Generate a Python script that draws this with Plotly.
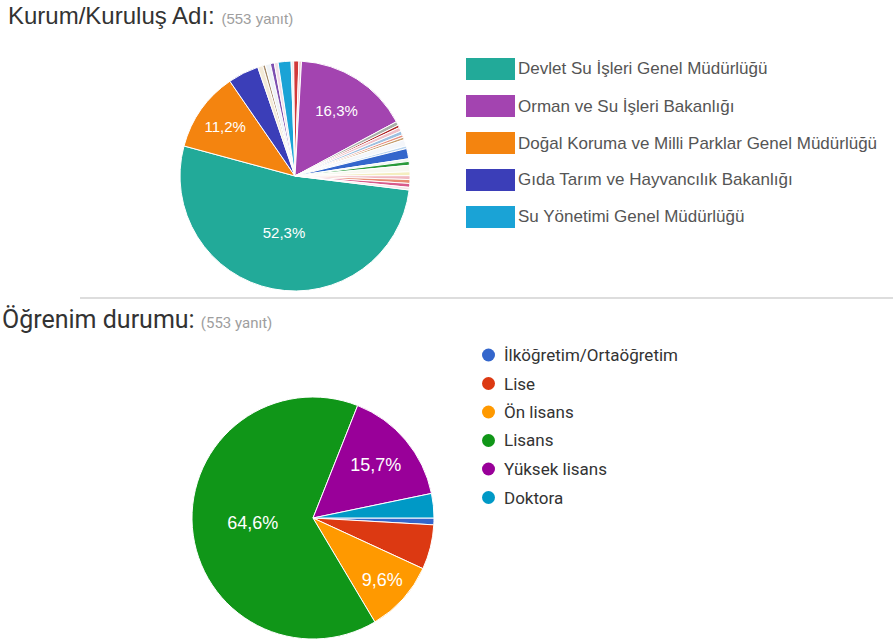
import plotly.graph_objects as go

W, H = 893, 644

# ---------------- Data: Kurum/Kuruluş Adı (553 yanıt) ----------------
# clockwise order as drawn, starting with the largest slice
kurum_labels = [
    "Devlet Su İşleri Genel Müdürlüğü",
    "Doğal Koruma ve Milli Parklar Genel Müdürlüğü",
    "Gıda Tarım ve Hayvancılık Bakanlığı",
    "Diğer 1", "Diğer 2", "Diğer 3", "Diğer 4", "Diğer 5",
    "Su Yönetimi Genel Müdürlüğü",
    "Diğer 6", "Diğer 7", "Diğer 8",
    "Orman ve Su İşleri Bakanlığı",
    "Diğer 9", "Diğer 10", "Diğer 11", "Diğer 12", "Diğer 13", "Diğer 14",
    "Diğer 15", "Diğer 16", "Diğer 17", "Diğer 18", "Diğer 19", "Diğer 20",
    "Diğer 21", "Diğer 22", "Diğer 23", "Diğer 24", "Diğer 25",
]
kurum_values = [
    289, 62, 24,
    4, 2, 4, 3, 3,
    10,
    2, 4, 2,
    90,
    3, 2, 3, 3, 2, 2,
    5, 2, 8, 2, 3, 5,
    3, 3, 3, 3, 2,
]
kurum_colors = [
    "#22aa99", "#f4840f", "#3b3eb8",
    "#f3ead8", "#a58a6a", "#eef2f6", "#7d4fb0", "#f2dce6",
    "#1aa3d6",
    "#e8f0f0", "#d23a3a", "#f0c8d0",
    "#a344b0",
    "#a8b0a8", "#b02828", "#f0c0c8", "#9ec0e0", "#e89080", "#c8a070",
    "#f4f6fa", "#b8d4f0", "#3366cc", "#eef6ee", "#2a9a3a", "#f8f8f0",
    "#f4eec0", "#f0b8c0", "#e88a70", "#d85a8a", "#f4e4e8",
]

# ---------------- Data: Öğrenim durumu (553 yanıt) ----------------
egitim_labels = ["İlköğretim/Ortaöğretim", "Lise", "Ön lisans", "Lisans",
                 "Yüksek lisans", "Doktora"]
egitim_values = [5, 33, 53, 357, 87, 18]
egitim_colors = ["#3366cc", "#dc3912", "#ff9900", "#109618", "#990099", "#0099c6"]

TOTAL_TEXT = "(553 yanıt)"
FONT = "Liberation Sans, Arial, sans-serif"
FONT2 = "Roboto, Liberation Sans, Arial, sans-serif"


def pct_text(values, threshold=0.08):
    s = sum(values)
    out = []
    for v in values:
        p = v / s
        out.append((f"{p*100:.1f}%".replace(".", ",")) if p >= threshold else "")
    return out


def px(x):
    return x / W


def py(y):
    return 1 - y / H


fig = go.Figure()

fig.add_trace(go.Pie(
    labels=kurum_labels, values=kurum_values, sort=False, direction="clockwise",
    rotation=97, marker=dict(colors=kurum_colors, line=dict(color="white", width=1)),
    text=pct_text(kurum_values), textinfo="text", textposition="inside",
    insidetextorientation="horizontal",
    textfont=dict(color="white", size=15, family=FONT),
    domain=dict(x=[px(180), px(410)], y=[py(291), py(61)]),
    showlegend=False, hoverinfo="label+percent",
))

fig.add_trace(go.Pie(
    labels=egitim_labels, values=egitim_values, sort=False, direction="clockwise",
    rotation=90, marker=dict(colors=egitim_colors, line=dict(color="white", width=1)),
    text=pct_text(egitim_values), textinfo="text", textposition="inside",
    insidetextorientation="horizontal",
    textfont=dict(color="white", size=18, family=FONT),
    domain=dict(x=[px(192), px(434)], y=[py(639), py(397)]),
    showlegend=False, hoverinfo="label+percent",
))

shapes = []
annotations = []

# Titles
annotations.append(dict(
    x=px(6), y=py(0), xref="paper", yref="paper", xanchor="left", yanchor="top",
    showarrow=False, align="left",
    text=f"Kurum/Kuruluş Adı: <span style='font-size:15px;color:#9e9e9e'>{TOTAL_TEXT}</span>",
    font=dict(size=24, color="#333333", family=FONT),
))
annotations.append(dict(
    x=px(0), y=py(319), xref="paper", yref="paper", xanchor="left", yanchor="middle",
    showarrow=False, align="left",
    text=f"Öğrenim durumu: <span style='font-size:15px;color:#9e9e9e'>{TOTAL_TEXT}</span>",
    font=dict(size=25, color="#333333", family=FONT2),
))

# Separator line
shapes.append(dict(type="line", xref="paper", yref="paper",
                   x0=px(80), x1=1, y0=py(298), y1=py(298),
                   line=dict(color="#bbbbbb", width=1)))

# Top legend: five largest categories, swatch rectangles
top5 = sorted(zip(kurum_values, kurum_labels, kurum_colors), key=lambda t: -t[0])[:5]
for i, (_, lab, col) in enumerate(top5):
    cy = 69 + 37 * i
    shapes.append(dict(type="rect", xref="paper", yref="paper",
                       x0=px(466), x1=px(515), y0=py(cy + 11), y1=py(cy - 11),
                       fillcolor=col, line=dict(width=0)))
    annotations.append(dict(x=px(516), y=py(cy), xref="paper", yref="paper",
                            xanchor="left", yanchor="middle", showarrow=False,
                            text=lab, font=dict(size=17, color="#555555", family=FONT)))

# Bottom legend: circles
for i, (lab, col) in enumerate(zip(egitim_labels, egitim_colors)):
    cy = 355 + 28.5 * i
    shapes.append(dict(type="circle", xref="paper", yref="paper",
                       x0=px(482), x1=px(495), y0=py(cy + 6.5), y1=py(cy - 6.5),
                       fillcolor=col, line=dict(width=0)))
    annotations.append(dict(x=px(502), y=py(cy), xref="paper", yref="paper",
                            xanchor="left", yanchor="middle", showarrow=False,
                            text=lab, font=dict(size=17, color="#333333", family=FONT2)))

fig.update_layout(
    width=W, height=H, margin=dict(l=0, r=0, t=0, b=0),
    paper_bgcolor="white", plot_bgcolor="white",
    shapes=shapes, annotations=annotations, showlegend=False,
)

fig.write_html("out.html", config={"displayModeBar": False},
               post_script="document.body.style.margin='0';")
